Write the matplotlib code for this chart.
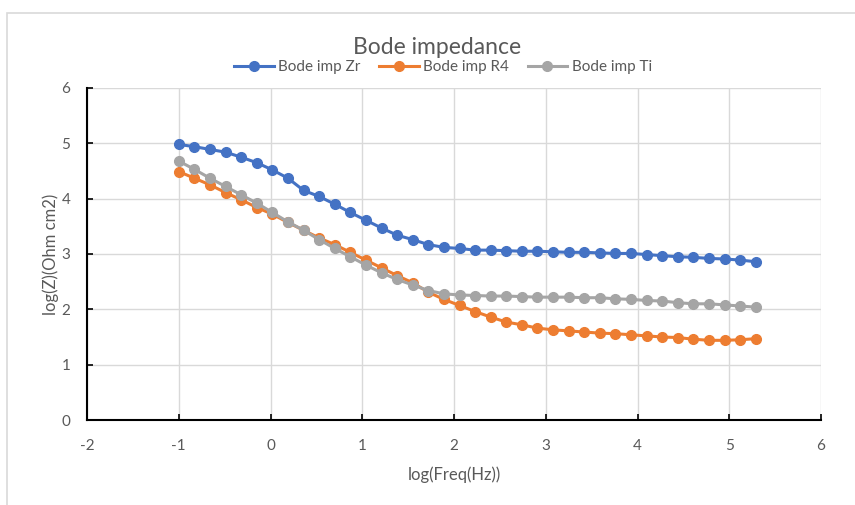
import matplotlib.pyplot as plt
from matplotlib.patches import Rectangle

# log frequency (Hz)
log_freq = [-1.00, -0.83, -0.66, -0.49, -0.32, -0.15, 0.02, 0.19, 0.36, 0.53,
            0.70, 0.87, 1.04, 1.21, 1.38, 1.55, 1.72, 1.89, 2.06, 2.23,
            2.40, 2.57, 2.74, 2.91, 3.08, 3.25, 3.42, 3.59, 3.76, 3.93,
            4.10, 4.27, 4.44, 4.61, 4.78, 4.95, 5.12, 5.29]

z_zr = [4.98, 4.94, 4.89, 4.84, 4.75, 4.65, 4.52, 4.37, 4.15, 4.04,
        3.90, 3.75, 3.61, 3.47, 3.34, 3.26, 3.17, 3.12, 3.10, 3.07,
        3.07, 3.06, 3.05, 3.05, 3.04, 3.03, 3.03, 3.02, 3.01, 3.01,
        2.99, 2.97, 2.95, 2.94, 2.92, 2.91, 2.89, 2.86]

z_r4 = [4.49, 4.37, 4.25, 4.11, 3.98, 3.84, 3.72, 3.57, 3.43, 3.29,
        3.17, 3.03, 2.89, 2.75, 2.61, 2.48, 2.31, 2.18, 2.07, 1.96,
        1.86, 1.77, 1.72, 1.66, 1.63, 1.61, 1.59, 1.57, 1.56, 1.54,
        1.52, 1.50, 1.49, 1.46, 1.44, 1.44, 1.45, 1.47]

z_ti = [4.68, 4.53, 4.37, 4.22, 4.07, 3.92, 3.75, 3.58, 3.43, 3.26,
        3.10, 2.95, 2.80, 2.66, 2.54, 2.44, 2.34, 2.28, 2.26, 2.25,
        2.24, 2.24, 2.23, 2.22, 2.22, 2.22, 2.21, 2.21, 2.19, 2.18,
        2.16, 2.15, 2.12, 2.10, 2.10, 2.08, 2.06, 2.04]

series = [("Bode imp Zr", z_zr, "#4472C4"),
          ("Bode imp R4", z_r4, "#ED7D31"),
          ("Bode imp Ti", z_ti, "#A5A5A5")]

plt.rcParams['font.family'] = ['Lato', 'DejaVu Sans']
plt.rcParams['axes.unicode_minus'] = False
txt = '#595959'

fig = plt.figure(figsize=(8.55, 5.05), dpi=100)
fig.patches.append(Rectangle((7 / 855, -0.1), 1.2, 1 - 13 / 505 + 0.1,
                             transform=fig.transFigure, fill=False,
                             edgecolor='#D9D9D9', linewidth=1.2))

ax = fig.add_axes([87 / 855, 1 - 420 / 505, (821 - 87) / 855, (420 - 88) / 505])

for name, vals, col in series:
    ax.plot(log_freq, vals, color=col, lw=2.2, marker='o', markersize=7,
            label=name, clip_on=False, zorder=3)

ax.set_xlim(-2, 6)
ax.set_ylim(0, 6)
ax.set_xticks(range(-2, 7))
ax.set_yticks(range(0, 7))
ax.grid(True, color='#D9D9D9', lw=1)
ax.set_axisbelow(True)
for s in ['top', 'right']:
    ax.spines[s].set_visible(False)
for s in ['left', 'bottom']:
    ax.spines[s].set_color('black')
    ax.spines[s].set_linewidth(1.5)
ax.tick_params(direction='in', length=4, width=1.2, colors='black',
               labelcolor=txt, labelsize=11)
ax.tick_params(axis='x', pad=14)
ax.tick_params(axis='y', pad=12)

ax.set_xlabel('log(Freq(Hz))', fontsize=12, color=txt, labelpad=9)
ax.set_ylabel('log(Z)(Ohm cm2)', fontsize=12, color=txt, labelpad=2)

fig.text(437 / 855, 1 - 47 / 505, 'Bode impedance', ha='center', va='center',
         fontsize=16.5, color=txt)
ax.legend(loc='center', bbox_to_anchor=(443 / 855, 1 - 67 / 505),
          bbox_transform=fig.transFigure, ncol=3, frameon=False,
          fontsize=11, labelcolor=txt, handlelength=2.6, columnspacing=1.2,
          handletextpad=0.3, borderaxespad=0)

fig.savefig('out.png', dpi=100)
